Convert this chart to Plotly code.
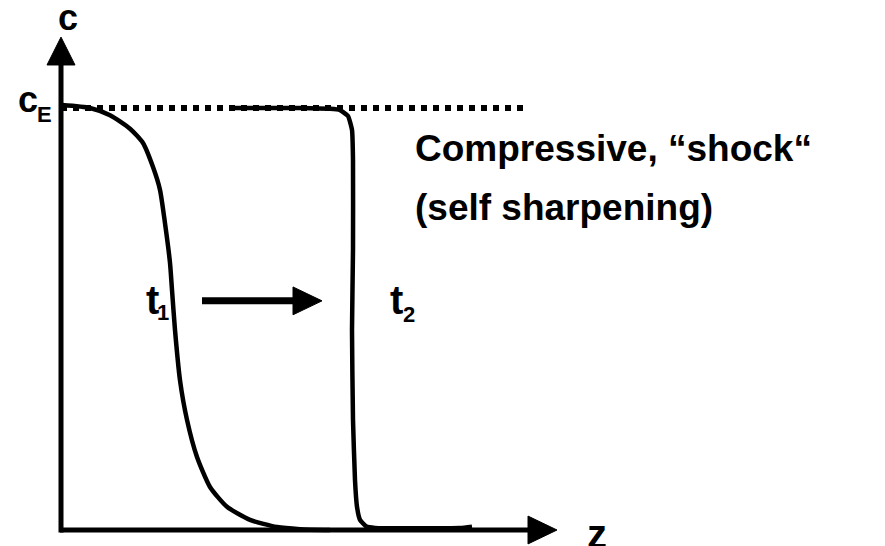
import plotly.graph_objects as go

# ---- data (z in arbitrary units, c normalised so c_E = 1) ----
z_t1 = [0.02, 0.58, 0.98, 1.38, 1.64, 1.84, 1.98, 2.08, 2.18, 2.22, 2.28, 2.38,
        2.52, 2.72, 2.98, 3.32, 3.78, 4.32, 4.78, 5.38]
c_t1 = [1.007, 1.0, 0.983, 0.951, 0.917, 0.860, 0.806, 0.727, 0.633, 0.569,
        0.474, 0.355, 0.261, 0.173, 0.102, 0.055, 0.024, 0.007, 0.002, 0.0]

z_t2 = [3.42, 4.78, 5.38, 5.58, 5.74, 5.82, 5.84, 5.84, 5.82, 5.84, 5.88, 5.92,
        5.98, 6.10, 6.28, 7.98, 8.22]
c_t2 = [1.0, 1.0, 0.998, 0.995, 0.981, 0.948, 0.877, 0.664, 0.474, 0.261, 0.118,
        0.055, 0.024, 0.009, 0.005, 0.005, 0.008]

c_E = 1.0
z_dotted_end = 9.28

# axis geometry (data units)
z_axis_end, z_arrow_tip = 9.34, 9.92
c_axis_end, c_arrow_tip = 1.102, 1.168
arrow_half_w_z, arrow_half_h_c = 0.28, 0.033

# motion arrow between the profiles
move_z = [2.82, 4.64, 5.22]
move_c = 0.543

FONT = "Liberation Sans, Arial, sans-serif"
BLACK = "#000000"

fig = go.Figure()

# dotted c_E level
fig.add_trace(go.Scatter(x=[0, z_dotted_end], y=[c_E, c_E], mode="lines",
                         line=dict(color=BLACK, width=6, dash="6px,6px")))
# axes
fig.add_trace(go.Scatter(x=[0, 0], y=[-0.006, c_axis_end], mode="lines",
                         line=dict(color=BLACK, width=5)))
fig.add_trace(go.Scatter(x=[-0.02, z_axis_end], y=[0, 0], mode="lines",
                         line=dict(color=BLACK, width=5)))
# axis arrow heads
fig.add_trace(go.Scatter(x=[-arrow_half_w_z, arrow_half_w_z, 0, -arrow_half_w_z],
                         y=[c_axis_end, c_axis_end, c_arrow_tip, c_axis_end],
                         mode="lines", fill="toself", fillcolor=BLACK,
                         line=dict(color=BLACK, width=1)))
fig.add_trace(go.Scatter(x=[z_axis_end, z_axis_end, z_arrow_tip, z_axis_end],
                         y=[-arrow_half_h_c, arrow_half_h_c, 0, -arrow_half_h_c],
                         mode="lines", fill="toself", fillcolor=BLACK,
                         line=dict(color=BLACK, width=1)))
# profiles
fig.add_trace(go.Scatter(x=z_t1, y=c_t1, mode="lines",
                         line=dict(color=BLACK, width=4.5, shape="spline", smoothing=0.6)))
fig.add_trace(go.Scatter(x=z_t2, y=c_t2, mode="lines",
                         line=dict(color=BLACK, width=4.5, shape="spline", smoothing=0.4)))
# movement arrow
fig.add_trace(go.Scatter(x=[move_z[0], move_z[1]], y=[move_c, move_c], mode="lines",
                         line=dict(color=BLACK, width=7)))
fig.add_trace(go.Scatter(x=[move_z[1], move_z[1], move_z[2], move_z[1]],
                         y=[move_c - arrow_half_h_c, move_c + arrow_half_h_c, move_c,
                            move_c - arrow_half_h_c],
                         mode="lines", fill="toself", fillcolor=BLACK,
                         line=dict(color=BLACK, width=1)))

def label(text, x, y, size, xanchor="center"):
    fig.add_annotation(x=x, y=y, xref="x", yref="y", text="<b>" + text + "</b>",
                       showarrow=False, xanchor=xanchor, yanchor="middle",
                       font=dict(family=FONT, size=size, color=BLACK))

label("c", 0.14, 1.215, 36)
label("c", -0.66, 1.02, 36)
label("E", -0.34, 0.985, 22)
label("t", 1.82, 0.545, 40)
label("1", 2.04, 0.515, 22)
label("t", 6.7, 0.545, 40)
label("2", 6.96, 0.51, 22)
label("z", 10.72, -0.01, 40)
label("Compressive, \u201cshock\u201c", 7.04, 0.905, 37, xanchor="left")
label("(self sharpening)", 7.04, 0.765, 37, xanchor="left")

# page body has an 8px margin, so the figure is 8px smaller and the ranges
# are set so that the drawing lands where the reference has it
fig.update_layout(
    width=877, height=538,
    margin=dict(l=0, r=0, t=0, b=0),
    paper_bgcolor="white", plot_bgcolor="white",
    showlegend=False,
    xaxis=dict(range=[-1.06, 16.48], visible=False, fixedrange=True),
    yaxis=dict(range=[-0.0379, 1.237], visible=False, fixedrange=True),
)

fig.write_html("out.html")
